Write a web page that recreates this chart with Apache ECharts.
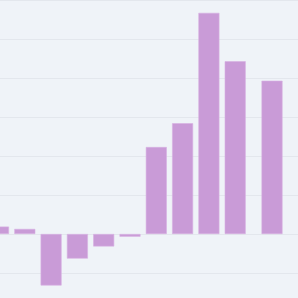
<!DOCTYPE html>
<html><head><meta charset="utf-8">
<script src="https://cdn.jsdelivr.net/npm/echarts@6/dist/echarts.min.js"></script>
<style>html,body{margin:0;padding:0;background:#eff3f8;}#c{width:298px;height:298px;}</style>
</head><body><div id="c"></div>
<script>
var positions = [0, 1, 2, 3, 4, 5, 6, 7, 8, 9, 10.4];
var values = [0.19, 0.13, -1.32, -0.63, -0.32, -0.07, 2.23, 2.84, 5.67, 4.43, 3.93];
var yTicks = [-2, -1, 0, 1, 2, 3, 4, 5, 6];

var chart = echarts.init(document.getElementById('c'), null, {renderer: 'canvas'});
chart.setOption({
  backgroundColor: '#eff3f8',
  animation: false,
  grid: {left: -14.65, top: 0, width: 315.6, height: 312, containLabel: false, outerBoundsMode: 'none'},
  xAxis: {type: 'value', min: -0.5, max: 11.5, show: false},
  yAxis: {type: 'value', min: yTicks[0], max: yTicks[yTicks.length-1], interval: 1,
    axisLine: {show: false}, axisTick: {show: false}, axisLabel: {show: false},
    splitLine: {lineStyle: {color: '#e3e7ed', width: 1}}},
  series: [{
    type: 'bar', barWidth: 21,
    data: positions.map(function(p, i){ return [p, values[i]]; }),
    itemStyle: {color: '#c99bd7', borderColor: '#d6b0e2', borderWidth: 0.6}
  }]
});
</script></body></html>
